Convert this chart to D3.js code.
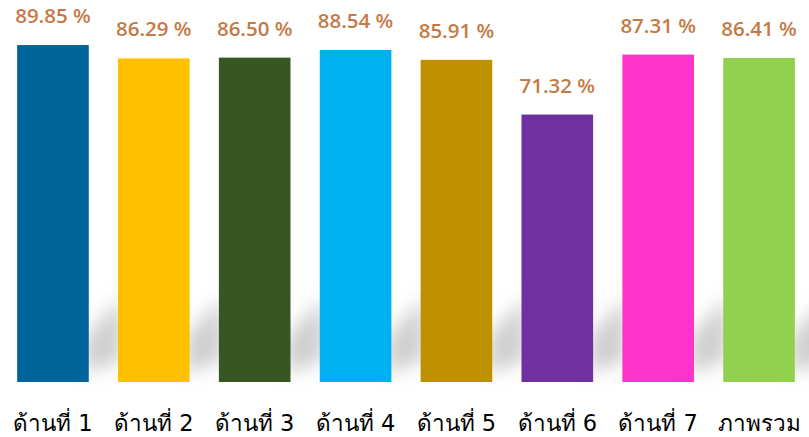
<!DOCTYPE html>
<html>
<head>
<meta charset="utf-8">
<script src="https://cdn.jsdelivr.net/npm/d3@7"></script>
<style>
  body { margin: 0; background: #fff; }
</style>
</head>
<body>
<script>
// data
var categories = ["ด้านที่ 1", "ด้านที่ 2", "ด้านที่ 3", "ด้านที่ 4", "ด้านที่ 5", "ด้านที่ 6", "ด้านที่ 7", "ภาพรวม"];
var values = [89.85, 86.29, 86.50, 88.54, 85.91, 71.32, 87.31, 86.41];
var valueLabels = ["89.85 %", "86.29 %", "86.50 %", "88.54 %", "85.91 %", "71.32 %", "87.31 %", "86.41 %"];
var colors = ["#00649a", "#ffc000", "#385623", "#00b0f0", "#bf9000", "#7030a0", "#ff33cc", "#92d050"];

var canvasWidth = 809,
    canvasHeight = 437,
    baseline = 382;

var svg = d3.select("body")
    .append("svg")
        .attr("width", canvasWidth)
        .attr("height", canvasHeight);

var x = d3.scaleBand()
    .domain(categories)
    .range([0, 812])
    .paddingInner(0.29)
    .paddingOuter(0.17);

var y = d3.scaleLinear()
    .domain([0, 100])
    .range([baseline, baseline - 375]);

// soft shadow behind the bars
var defs = svg.append("defs");
defs.append("filter")
    .attr("id", "blur")
    .attr("x", "-50%").attr("y", "-50%")
    .attr("width", "200%").attr("height", "200%")
    .append("feGaussianBlur")
    .attr("stdDeviation", 9);

var gap = x.step() - x.bandwidth();

svg.append("g")
    .attr("filter", "url(#blur)")
    .selectAll("path")
    .data(categories)
    .enter()
    .append("path")
    .attr("fill", "#8c8c8c")
    .attr("opacity", 0.42)
    .attr("d", function(d) {
        var x0 = x(d) + x.bandwidth() - 4,
            x1 = x0 + gap + 8;
        return "M" + x0 + "," + (baseline - 8) +
               "L" + x0 + "," + (baseline - 45) +
               "L" + x1 + "," + (baseline - 85) +
               "L" + x1 + "," + (baseline - 22) + "Z";
    });

// bars
svg.append("g")
    .selectAll("rect")
    .data(values)
    .enter()
    .append("rect")
    .attr("x", function(d, i) { return x(categories[i]); })
    .attr("y", function(d) { return y(d); })
    .attr("width", x.bandwidth())
    .attr("height", function(d) { return baseline - y(d); })
    .attr("fill", function(d, i) { return colors[i]; });

// value labels
svg.append("g")
    .selectAll("text")
    .data(values)
    .enter()
    .append("text")
    .attr("x", function(d, i) { return x(categories[i]) + x.bandwidth() / 2; })
    .attr("y", function(d) { return y(d) - 22; })
    .attr("text-anchor", "middle")
    .attr("font-family", "Open Sans, sans-serif")
    .attr("font-weight", 600)
    .attr("font-size", 20.5)
    .attr("fill", "#c47a45")
    .text(function(d, i) { return valueLabels[i]; });

// category labels
svg.append("g")
    .selectAll("text")
    .data(categories)
    .enter()
    .append("text")
    .attr("x", function(d) { return x(d) + x.bandwidth() / 2; })
    .attr("y", 431)
    .attr("text-anchor", "middle")
    .attr("font-family", "Tahoma, DejaVu Sans, sans-serif")
    .attr("font-size", 22.5)
    .attr("fill", "#000")
    .text(function(d) { return d; });
</script>
</body>
</html>
